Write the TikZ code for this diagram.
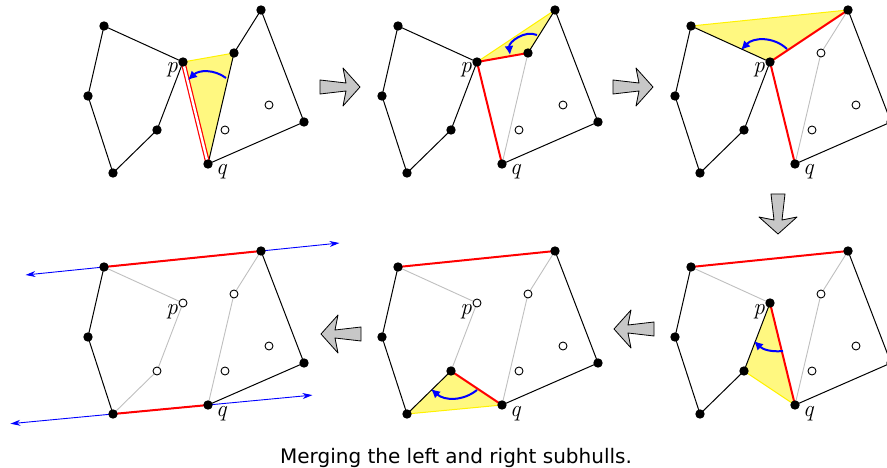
\documentclass[tikz,border=0pt]{standalone}
\usepackage{fontspec}
\newfontfamily\capfont{DejaVu Sans}
\usetikzlibrary{arrows.meta,calc}

% points of the two subhulls, same in every panel
\newcommand{\hullpts}[1]{%
  \coordinate (#1l1) at (104,26); \coordinate (#1l2) at (88,96);
  \coordinate (#1l3) at (113,173); \coordinate (#1l4) at (157,130);
  \coordinate (#1p) at (183,62);
  \coordinate (#1rt) at (261,10); \coordinate (#1ra) at (234,53);
  \coordinate (#1q) at (208,164); \coordinate (#1rb) at (304,122);
  \coordinate (#1c1) at (225,130); \coordinate (#1c2) at (269,105);
  \node[lbl,anchor=base east,xshift=-5pt,yshift=-11pt] (#1plbl) at (#1p) {p};
  \node[lbl,anchor=base west,xshift=8pt,yshift=-11pt] (#1qlbl) at (#1q) {q};}
\newcommand{\hulldots}[3]{%
  \foreach \v in {#2} \fill (#1\v) circle (4.7pt);
  \foreach \v in {#3} \filldraw[fill=white,line width=.9pt] (#1\v) circle (4pt);}

\tikzset{blockarrow/.pic={
  \filldraw[fill=black!22,line width=.8pt] (-40,-7) -- (-14,-4) -- (-17,-19) -- (0,0)
    -- (-17,19) -- (-14,4) -- (-40,7) -- cycle;}}

\begin{document}
\begin{tikzpicture}[x=1pt,y=-1pt,line join=round,
    hull/.style={line width=1pt},
    ghost/.style={black!25,line width=.9pt},
    bridge/.style={red,line width=2pt},
    tri/.style={fill=yellow!50},
    rim/.style={yellow,line width=1pt},
    turn/.style={blue,line width=2pt,-{Latex[length=9pt,width=9pt]}},
    tangent/.style={blue,line width=.9pt,{Stealth[length=10pt,width=6pt]}-{Stealth[length=10pt,width=6pt]}},
    lbl/.style={inner sep=0pt,font=\fontsize{23}{27}\selectfont\itshape}]
  \useasboundingbox (0,0) rectangle (887,468);

  % top left
  \begin{scope}
    \hullpts{a}
    \fill[tri] (ap) -- (ara) -- (aq) -- cycle; \draw[rim] (ap) -- (ara);
    \draw[hull] (ap) -- (al1) -- (al2) -- (al3) -- (al4) -- cycle;
    \draw[hull] (aq) -- (ara) -- (art) -- (arb) -- cycle;
    \draw[red,line width=1.2pt,double=white,double distance=2.4pt] (ap) -- (aq);
    \coordinate (at1) at (226,78); \coordinate (at2) at (188,80);
    \draw[turn] (at1) to[bend right=40] (at2);
    \hulldots{a}{l1,l2,l3,l4,p,rt,ra,q,rb}{c1,c2}
  \end{scope}

  % top middle
  \begin{scope}[shift={(294,0)}]
    \hullpts{b}
    \fill[tri] (bp) -- (bra) -- (brt) -- cycle; \draw[rim] (bp) -- (brt);
    \draw[hull] (bp) -- (bl1) -- (bl2) -- (bl3) -- (bl4) -- cycle;
    \draw[hull] (bra) -- (brt) -- (brb) -- (bq);
    \draw[ghost] (bra) -- (bq);
    \draw[bridge] (bra) -- (bp) -- (bq);
    \coordinate (bt1) at (243,35); \coordinate (bt2) at (216,55);
    \draw[turn] (bt1) to[bend right=60] (bt2);
    \hulldots{b}{l1,l2,l3,l4,p,rt,ra,q,rb}{c1,c2}
  \end{scope}

  % top right
  \begin{scope}[shift={(587,0)}]
    \hullpts{c}
    \fill[tri] (cl1) -- (cp) -- (crt) -- cycle; \draw[rim] (cl1) -- (crt);
    \draw[hull] (cp) -- (cl1) -- (cl2) -- (cl3) -- (cl4) -- cycle;
    \draw[hull] (crt) -- (crb) -- (cq);
    \draw[ghost] (crt) -- (cra) -- (cq);
    \draw[bridge] (crt) -- (cp) -- (cq);
    \coordinate (ct1) at (200,49); \coordinate (ct2) at (154,50);
    \draw[turn] (ct1) to[bend right=45] (ct2);
    \hulldots{c}{l1,l2,l3,l4,p,rt,q,rb}{ra,c1,c2}
  \end{scope}

  % bottom right
  \begin{scope}[shift={(587,241)}]
    \hullpts{d}
    \fill[tri] (dp) -- (dl4) -- (dq) -- cycle; \draw[rim] (dl4) -- (dq);
    \draw[hull] (dp) -- (dl4) -- (dl3) -- (dl2) -- (dl1);
    \draw[hull] (drt) -- (drb) -- (dq);
    \draw[ghost] (dl1) -- (dp); \draw[ghost] (drt) -- (dra) -- (dq);
    \draw[bridge] (dl1) -- (drt); \draw[bridge] (dp) -- (dq);
    \coordinate (dt1) at (196,110); \coordinate (dt2) at (167,100);
    \draw[turn] (dt1) to[bend left=25] (dt2);
    \hulldots{d}{l1,l2,l3,l4,p,rt,q,rb}{ra,c1,c2}
  \end{scope}

  % bottom middle
  \begin{scope}[shift={(294,241)}]
    \hullpts{e}
    \fill[tri] (el3) -- (el4) -- (eq) -- cycle; \draw[rim] (el3) -- (eq);
    \draw[hull] (el4) -- (el3) -- (el2) -- (el1);
    \draw[hull] (ert) -- (erb) -- (eq);
    \draw[ghost] (el1) -- (ep) -- (el4); \draw[ghost] (ert) -- (era) -- (eq);
    \draw[bridge] (el1) -- (ert); \draw[bridge] (el4) -- (eq);
    \coordinate (et1) at (183,149); \coordinate (et2) at (137,148);
    \draw[turn] (et1) to[bend left=40] (et2);
    \hulldots{e}{l1,l2,l3,l4,rt,q,rb}{p,ra,c1,c2}
  \end{scope}

  % bottom left
  \begin{scope}[shift={(0,241)}]
    \hullpts{f}
    \coordinate (fu1) at ($(fl1)!-0.5!(frt)$); \coordinate (fu2) at ($(frt)!-0.5!(fl1)$);
    \coordinate (fw1) at ($(fl3)!-1.08!(fq)$); \coordinate (fw2) at ($(fq)!-1.1!(fl3)$);
    \draw[tangent] (fu1) -- (fu2); \draw[tangent] (fw1) -- (fw2);
    \draw[hull] (fl1) -- (fl2) -- (fl3);
    \draw[hull] (frt) -- (frb) -- (fq);
    \draw[ghost] (fl1) -- (fp) -- (fl4) -- (fl3); \draw[ghost] (frt) -- (fra) -- (fq);
    \draw[bridge] (fl1) -- (frt); \draw[bridge] (fl3) -- (fq);
    \hulldots{f}{l1,l2,l3,rt,q,rb}{p,l4,ra,c1,c2}
  \end{scope}

  % steps
  \pic at (360,87) {blockarrow};
  \pic at (653,87) {blockarrow};
  \pic[rotate=-90] at (778,234) {blockarrow};
  \pic[rotate=180] at (614,329) {blockarrow};
  \pic[rotate=180] at (321,334) {blockarrow};

  \node[font=\capfont\fontsize{20}{24}\selectfont,anchor=base] (caption) at (456,463)
    {Merging the left and right subhulls.};
\end{tikzpicture}
\end{document}
